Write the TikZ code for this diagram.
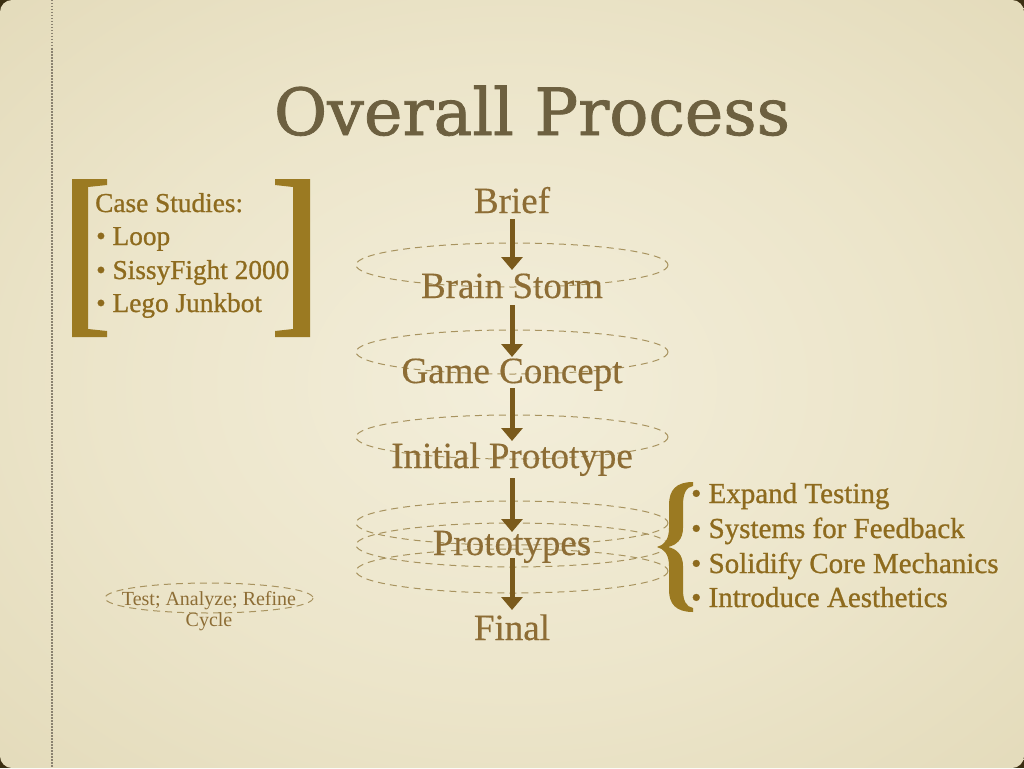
\documentclass[tikz,border=0pt]{standalone}
\usepackage{fontspec}
\setmainfont{Liberation Serif}
\newfontfamily\titlefont{DejaVu Serif}[FakeBold=1.2]
\newfontfamily\flowfont{Liberation Serif}[FakeBold=0.4]
\newfontfamily\listfont{Liberation Serif}[FakeBold=0.9]
\usetikzlibrary{arrows.meta,calc}
\definecolor{bgdark}{HTML}{3B2F12}
\definecolor{bgin}{HTML}{F3EEDA}
\definecolor{bgmid}{HTML}{ECE5CA}
\definecolor{bgout}{HTML}{DCD2AD}
\definecolor{titlecol}{HTML}{6D6040}
\definecolor{flowcol}{HTML}{8D6D35}
\definecolor{goldcol}{HTML}{8E6B1E}
\definecolor{bracecol}{HTML}{9B7A22}
\definecolor{arrowcol}{HTML}{7A5A1C}
\definecolor{dashcol}{HTML}{A8935F}
\definecolor{dotcol}{HTML}{8A8270}
\pgfdeclareradialshading{paper}{\pgfpoint{0bp}{0bp}}{color(0bp)=(bgin); color(20bp)=(bgmid); color(50bp)=(bgout)}
\tikzset{
  flowtext/.style={anchor=base, inner sep=0pt, text=flowcol, font=\flowfont\fontsize{37}{40}\selectfont},
  caselist/.style={anchor=base west, inner sep=0pt, text=goldcol, font=\listfont\fontsize{27.3}{30}\selectfont},
  featlist/.style={anchor=base west, inner sep=0pt, text=goldcol, font=\listfont\fontsize{29}{32}\selectfont},
  cycletext/.style={anchor=base, inner sep=0pt, text=flowcol, font=\fontsize{20}{22}\selectfont},
  flowarrow/.style={draw=arrowcol, line width=5pt, -{Triangle[width=21pt,length=13pt]}},
  dashring/.style={draw=dashcol, line width=1pt, dash pattern=on 7pt off 5pt},
}
\begin{document}
\begin{tikzpicture}[x=1pt,y=-1pt]
\useasboundingbox (0,0) rectangle (1024,768);
% background
\fill[bgdark] (0,0) rectangle (1024,768);
\shade[shading=paper, rounded corners=12pt] (0,0) rectangle (1024,768);
\draw[dotcol, line width=1.3pt, dash pattern=on 1.5pt off 1.5pt] (52,0) -- (52,768);
% title
\node[anchor=base, inner sep=0pt, text=titlecol, font=\titlefont\fontsize{65}{72}\selectfont] (title) at (532,135) {Overall Process};
% dashed rings
\draw[dashring] (512,265) ellipse [x radius=156, y radius=22];
\draw[dashring] (512,352) ellipse [x radius=156, y radius=22];
\draw[dashring] (512,437) ellipse [x radius=156, y radius=22];
\draw[dashring] (512,523) ellipse [x radius=156, y radius=22];
\draw[dashring] (512,545) ellipse [x radius=156, y radius=22];
\draw[dashring] (512,571) ellipse [x radius=156, y radius=22];
\draw[dashring] (209,598) ellipse [x radius=104, y radius=15];
% flow
\node[flowtext] (brief) at (512,213) {Brief};
\node[flowtext] (brain) at (512,298) {Brain Storm};
\node[flowtext] (game) at (512,383) {Game Concept};
\node[flowtext] (initial) at (512,468) {Initial Prototype};
\node[flowtext] (protos) at (512,555) {Prototypes};
\node[flowtext] (final) at (512,640) {Final};
\draw[flowarrow] ($(brief.base)+(0,6)$) -- ($(brain.base)+(0,-28)$);
\draw[flowarrow] ($(brain.base)+(0,7)$) -- ($(game.base)+(0,-26)$);
\draw[flowarrow] ($(game.base)+(0,5)$) -- ($(initial.base)+(0,-27)$);
\draw[flowarrow] ($(initial.base)+(0,10)$) -- ($(protos.base)+(0,-23)$);
\draw[flowarrow] ($(protos.base)+(0,3)$) -- ($(final.base)+(0,-30)$);
% case studies
\fill[bracecol] (107,179) -- (72,179) -- (72,337) -- (107,337) -- (107,331) -- (88,329) -- (88,187) -- (107,185) -- cycle;
\fill[bracecol] (275,179) -- (310,179) -- (310,337) -- (275,337) -- (275,331) -- (293,329) -- (293,187) -- (275,185) -- cycle;
\node[caselist] (case) at (95,212) {Case Studies:};
\node[caselist] (loop) at (96,245) {• Loop};
\node[caselist] (sissy) at (96,279) {• SissyFight 2000};
\node[caselist] (lego) at (96,312) {• Lego Junkbot};
% feature list
\fill[bracecol] (693,482) .. controls (676,482) and (669,490) .. (669,505)
 -- (669,528) .. controls (669,540) and (664,545) .. (657,547)
 .. controls (664,549) and (669,554) .. (669,566)
 -- (669,590) .. controls (669,604) and (676,612) .. (693,612)
 -- (693,608) .. controls (686,607) and (683,600) .. (683,590)
 -- (683,566) .. controls (683,555) and (677,549) .. (668,547)
 .. controls (677,545) and (683,539) .. (683,528)
 -- (683,505) .. controls (683,494) and (686,487) .. (693,486) -- cycle;
\node[featlist] (expand) at (691,503) {• Expand Testing};
\node[featlist] (systems) at (691,538) {• Systems for Feedback};
\node[featlist] (solidify) at (691,573) {• Solidify Core Mechanics};
\node[featlist] (introduce) at (691,607) {• Introduce Aesthetics};
% cycle label
\node[cycletext] (cyc1) at (209,605) {Test; Analyze; Refine};
\node[cycletext] (cyc2) at (209,626) {Cycle};
\end{tikzpicture}
\end{document}
